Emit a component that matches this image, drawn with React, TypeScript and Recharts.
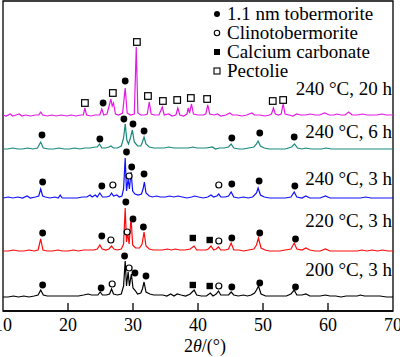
import React from 'react';
import { ComposedChart, Line, Scatter, XAxis, YAxis, ReferenceArea } from 'recharts';

const trace240C20h: [number, number][] = [
  [10, 1], [10.5, 0], [11.1, 2], [11.5, 0], [12, 1], [12.5, 2], [12.9, 0], [13.5, 1], [14.2, 0], [15, 1], [15.5, 1],
  [15.8, 4], [16.1, 1], [16.8, 0], [17.5, 1], [18.2, 0], [19, 1], [19.8, 0], [20.5, 1], [21.2, 0], [22, 1], [22.35, 1],
  [22.6, 8], [22.85, 1], [23.5, 0], [24.2, 1], [24.9, 1], [25.2, 7], [25.5, 1], [26, 2], [26.6, 17], [26.8, 10],
  [27.0, 13], [27.3, 2], [27.8, 1], [28.4, 3], [28.8, 28], [29.1, 3], [29.6, 1], [30.2, 2], [30.5, 69], [30.75, 3],
  [31.2, 1], [31.8, 1], [32.2, 2], [32.5, 14], [32.8, 2], [33.3, 1], [34, 1], [34.5, 9], [34.8, 1], [35.5, 2], [36, 0],
  [36.6, 1], [36.9, 8], [37.2, 1], [37.8, 0], [38.3, 2], [38.5, 8], [38.7, 3], [39.0, 12], [39.3, 2], [40, 1], [40.8, 1],
  [41.2, 2], [41.5, 11], [41.8, 2], [42.5, 1], [43, 2], [43.5, 0], [44.3, 1], [44.9, 3], [45.3, 1], [46, 1], [46.8, 0],
  [47.5, 1], [48.3, 3], [48.7, 1], [49.5, 1], [50.3, 0], [51, 1], [51.3, 2], [51.6, 8], [51.9, 2], [52.4, 1], [52.8, 2],
  [53.1, 12], [53.4, 2], [54, 1], [54.6, 0], [55.2, 2], [55.8, 1], [56.5, 1], [57.3, 2], [58, 1], [58.7, 1], [59.5, 3],
  [60.2, 1], [60.9, 1], [61.4, 2], [62, 1], [62.6, 1], [63.2, 4], [63.7, 1], [64.5, 1], [65.3, 2], [66, 1], [66.8, 1],
  [67.5, 1], [68.3, 2], [69, 1], [70, 1],
];

const trace240C6h: [number, number][] = [
  [10, 1], [10.7, 1], [11.5, 2], [12.3, 1], [13, 1], [13.8, 2], [14.6, 1], [15.3, 2], [15.8, 8], [16.2, 2], [17, 1],
  [17.8, 1], [18.6, 2], [19.4, 1], [20.2, 1], [21, 2], [21.8, 1], [22.6, 2], [23.4, 2], [24.2, 3], [24.5, 3], [24.85, 6],
  [25.2, 2], [25.8, 2], [26.3, 3], [26.6, 4], [27, 2], [27.6, 2], [28.2, 4], [28.55, 12], [28.8, 26], [29.05, 10],
  [29.3, 6], [29.6, 12], [29.9, 20], [30.2, 8], [30.7, 4], [31.2, 4], [31.45, 8], [31.7, 13], [32, 6], [32.5, 3],
  [33.2, 2], [34, 2], [34.8, 2], [35.5, 3], [36.3, 2], [37, 2], [37.8, 2], [38.5, 2], [39.2, 3], [39.8, 2], [40.5, 2],
  [41.3, 2], [42.2, 3], [42.7, 1], [43.3, 2], [44, 2], [44.7, 3], [45.1, 6], [45.5, 2], [46.3, 1], [47, 1], [47.8, 2],
  [48.6, 3], [49.0, 6], [49.25, 9], [49.6, 4], [50.2, 2], [51, 1], [51.8, 1], [52.6, 1], [53.4, 1], [54.4, 3],
  [54.85, 6], [55.3, 2], [56, 1], [56.6, 2], [57.4, 1], [58.2, 1], [59, 1], [59.7, 2], [60.5, 1], [61.3, 1], [62.1, 1],
  [63, 1], [63.8, 1], [64.7, 1], [65.5, 1], [66.3, 1], [67.2, 1], [68, 1], [68.9, 1], [70, 1],
];

const trace240C3h: [number, number][] = [
  [10, 1], [10.8, 2], [11.5, 1], [12.3, 2], [13, 1], [13.7, 3], [14.2, 1], [15, 2], [15.5, 3], [15.8, 10], [16.1, 3],
  [16.5, 2], [17.2, 1], [18, 2], [18.5, 1], [18.8, 4], [19.1, 1], [19.8, 1], [20.6, 1], [21.4, 1], [22.2, 2], [22.9, 2],
  [23.4, 4], [23.7, 2], [24.2, 4], [24.5, 2], [24.9, 6], [25.3, 2], [25.9, 2], [26.4, 3], [26.7, 6], [27.0, 3],
  [27.5, 4], [27.9, 2], [28.3, 3], [28.55, 10], [28.8, 41], [29.0, 8], [29.25, 20], [29.45, 10], [29.7, 27],
  [29.95, 8], [30.3, 5], [30.8, 4], [31.3, 5], [31.55, 10], [31.75, 17], [32, 6], [32.5, 3], [33, 2], [33.6, 3],
  [34.2, 2], [35, 2], [35.6, 3], [36.3, 2], [36.9, 3], [37.6, 2], [38.3, 1], [39, 2], [39.5, 3], [40.1, 2], [40.8, 1],
  [41.5, 2], [42, 4], [42.4, 2], [42.9, 3], [43.2, 5], [43.5, 2], [44.2, 2], [44.7, 3], [45.1, 7], [45.5, 2], [46.2, 1],
  [47, 2], [47.7, 1], [48.4, 2], [49.0, 6], [49.25, 11], [49.6, 4], [50.2, 2], [51, 1], [51.8, 1], [52.6, 1], [53.4, 1],
  [54.3, 2], [54.8, 7], [55.2, 2], [56, 1], [56.6, 3], [57.2, 1], [58, 1], [58.8, 1], [59.6, 3], [60.3, 1], [61, 1],
  [61.8, 1], [62.6, 1], [63.4, 1], [64.2, 1], [65, 1], [65.8, 2], [66.6, 1], [67.4, 1], [68.2, 1], [69, 1], [70, 1],
];

const trace220C3h: [number, number][] = [
  [10, 1], [10.8, 1], [11.6, 2], [12.4, 1], [13.2, 1], [14, 2], [14.8, 1], [15.4, 2], [15.8, 13], [16.15, 2], [16.8, 1],
  [17.6, 1], [18.4, 2], [19.2, 1], [20, 1], [20.8, 2], [21.6, 1], [22.4, 2], [23.2, 2], [24, 2], [24.5, 3], [24.9, 7],
  [25.25, 3], [25.8, 2], [26.3, 3], [26.7, 6], [27.05, 3], [27.6, 2], [28.2, 3], [28.55, 8], [28.8, 44], [29.0, 10],
  [29.2, 19], [29.4, 8], [29.7, 34], [29.95, 7], [30.4, 4], [31, 4], [31.4, 8], [31.7, 20], [32.0, 6], [32.5, 3],
  [33.1, 2], [33.8, 2], [34.5, 2], [35.3, 3], [35.9, 2], [36.5, 3], [37.2, 2], [38, 2], [38.8, 3], [39.4, 6], [39.8, 2],
  [40.5, 2], [41.2, 2], [41.6, 3], [42.0, 6], [42.4, 2], [42.8, 3], [43.15, 5], [43.5, 2], [44.2, 2], [44.7, 3],
  [45.1, 9], [45.5, 2], [46.3, 2], [47, 1], [47.8, 2], [48.6, 3], [49.0, 7], [49.3, 14], [49.7, 4], [50.3, 2], [51, 1],
  [51.8, 1], [52.6, 1], [53.4, 2], [54.3, 3], [54.8, 9], [55.2, 3], [56, 2], [56.6, 4], [57.2, 2], [58, 1], [58.8, 1],
  [59.6, 3], [60.3, 1], [61.2, 1], [62, 1], [62.8, 1], [63.6, 1], [64.5, 1], [65.2, 2], [66, 1], [66.8, 2], [67.6, 1],
  [68.4, 2], [69.2, 1], [70, 1],
];

const trace200C3h: [number, number][] = [
  [10, 1], [10.8, 1], [11.6, 2], [12.4, 1], [13.2, 2], [14, 1], [14.8, 2], [15.4, 3], [15.8, 8], [16.2, 3], [16.8, 2],
  [17.6, 2], [18.4, 2], [19.2, 2], [20, 2], [20.8, 2], [21.6, 2], [22.4, 3], [23.1, 4], [23.6, 3], [24.2, 3], [24.6, 3],
  [24.95, 6], [25.3, 3], [25.9, 3], [26.4, 4], [26.7, 9], [27.0, 4], [27.6, 3], [28.2, 4], [28.55, 12], [28.8, 37],
  [29.0, 12], [29.25, 26], [29.45, 12], [29.75, 24], [30.0, 10], [30.4, 7], [30.7, 4], [31.2, 5], [31.45, 9],
  [31.7, 16], [32, 6], [32.6, 4], [33.2, 3], [33.9, 3], [34.6, 3], [35.2, 2], [35.8, 4], [36.3, 2], [36.8, 4], [37.4, 3],
  [38.1, 2], [38.8, 4], [39.4, 8], [39.8, 3], [40.5, 2], [41.3, 2], [41.9, 5], [42.3, 2], [42.8, 4], [43.15, 7],
  [43.5, 3], [44.2, 3], [44.7, 3], [45.1, 6], [45.5, 3], [46.2, 2], [47, 3], [47.6, 2], [48.2, 3], [48.7, 5], [49.0, 8],
  [49.3, 12], [49.7, 4], [50.4, 2], [51.2, 2], [52, 2], [52.8, 2], [53.6, 2], [54.3, 4], [54.8, 8], [55.2, 3], [56, 3],
  [56.6, 4], [57.2, 2], [58, 2], [58.8, 2], [59.6, 3], [60.3, 2], [61.2, 2], [62, 1], [62.8, 2], [63.6, 2], [64.5, 2],
  [65, 3], [65.6, 2], [66.4, 2], [67.2, 2], [68, 2], [69, 1], [70, 1],
];

// phase markers: [sample, 2θ, height above that sample's baseline]
const tobermoriteMarks: [string, number, number][] = [
  ['20h', 25.4, 13], ['20h', 28.8, 35],
  ['6h', 16.0, 15], ['6h', 24.9, 11], ['6h', 28.6, 31], ['6h', 30.0, 26], ['6h', 31.7, 19], ['6h', 45.2, 12], ['6h', 49.5, 17], ['6h', 54.8, 13],
  ['3h240', 16.1, 17], ['3h240', 25.2, 13], ['3h240', 29.0, 47], ['3h240', 29.8, 32], ['3h240', 31.7, 25], ['3h240', 45.2, 15], ['3h240', 49.4, 18], ['3h240', 54.9, 13],
  ['3h220', 16.1, 19], ['3h220', 25.2, 16], ['3h220', 28.9, 50], ['3h220', 30.0, 33], ['3h220', 31.6, 25], ['3h220', 45.2, 14], ['3h220', 49.5, 19], ['3h220', 55.0, 13],
  ['3h200', 16.1, 13], ['3h200', 25.1, 10], ['3h200', 28.7, 42], ['3h200', 30.3, 25], ['3h200', 32.0, 22], ['3h200', 45.2, 11], ['3h200', 49.5, 15], ['3h200', 55.0, 11],
];
const clinotobermoriteMarks: [string, number, number][] = [
  ['3h240', 26.9, 14], ['3h240', 29.4, 23], ['3h240', 43.2, 14],
  ['3h220', 26.6, 12], ['3h220', 29.1, 20], ['3h220', 43.2, 11],
  ['3h200', 26.8, 14], ['3h200', 29.4, 30], ['3h200', 43.2, 12],
];
const carbonateMarks: [string, number, number][] = [
  ['3h220', 39.2, 14], ['3h220', 41.8, 12],
  ['3h200', 39.2, 13], ['3h200', 41.8, 12],
];
const pectoliteMarks: [string, number, number][] = [
  ['20h', 22.6, 13], ['20h', 26.9, 23], ['20h', 30.6, 74], ['20h', 32.3, 20], ['20h', 34.6, 15],
  ['20h', 36.8, 16], ['20h', 38.9, 18], ['20h', 41.4, 17], ['20h', 51.5, 15], ['20h', 53.1, 16],
];

const xTicks = [10, 20, 30, 40, 50, 60, 70];
const legendNames = ['1.1 nm tobermorite', 'Clinotobermorite', 'Calcium carbonate', 'Pectolie'];

const FONT = "'Liberation Serif', 'Times New Roman', Times, 'DejaVu Serif', serif";
const serif = { fontFamily: FONT };

const samples = [
  { id: '20h', label: '240 °C, 20 h', data: trace240C20h, color: '#e31ae3', offset: 195, labelY: 95 },
  { id: '6h', label: '240 °C, 6 h', data: trace240C6h, color: '#17897a', offset: 161, labelY: 138 },
  { id: '3h240', label: '240 °C, 3 h', data: trace240C3h, color: '#1010ff', offset: 112, labelY: 185 },
  { id: '3h220', label: '220 °C, 3 h', data: trace220C3h, color: '#ff0a0a', offset: 59, labelY: 227 },
  { id: '3h200', label: '200 °C, 3 h', data: trace200C3h, color: '#000000', offset: 13, labelY: 276 },
];

const offsetOf = (id: string) => samples.find((s) => s.id === id)!.offset;
const toPoints = (marks: [string, number, number][]) =>
  marks.map(([id, x, h]) => ({ x, y: offsetOf(id) + h }));

const FilledCircle = (p: any) => <circle cx={p.cx} cy={p.cy} r={3.4} fill="#000" />;
const OpenCircle = (p: any) => <circle cx={p.cx} cy={p.cy} r={3} fill="#fff" stroke="#000" strokeWidth={1.2} />;
const FilledSquare = (p: any) => <rect x={p.cx - 3.2} y={p.cy - 3.2} width={6.4} height={6.4} fill="#000" />;
const OpenSquare = (p: any) => (
  <rect x={p.cx - 3.3} y={p.cy - 3.3} width={6.6} height={6.6} fill="#fff" stroke="#000" strokeWidth={1.2} />
);

const InTick = (props: any) => {
  const { x, y, payload } = props;
  const edge = payload.value === 10 || payload.value === 70;
  return (
    <g>
      {!edge && <line x1={x} x2={x} y1={y} y2={y - 8} stroke="#000" strokeWidth={1.3} />}
      <text x={x} y={y + 20} textAnchor="middle" style={serif} fontSize={18} fill="#000">
        {payload.value}
      </text>
    </g>
  );
};

export default function App() {
  return (
    <div style={{ position: 'absolute', left: 0, top: 0, width: 400, height: 357, background: '#fff', ...serif }}>
      <ComposedChart width={400} height={357} margin={{ top: 1, right: 7, left: 3, bottom: 0 }}>
        <XAxis
          dataKey="x"
          type="number"
          domain={[10, 70]}
          ticks={xTicks}
          interval={0}
          height={46}
          tickSize={0}
          tickMargin={0}
          tickLine={false}
          axisLine={{ stroke: '#000', strokeWidth: 1.3 }}
          tick={<InTick />}
          allowDataOverflow
        />
        <YAxis hide type="number" domain={[0, 310]} allowDataOverflow />
        <ReferenceArea x1={10} x2={70} y1={0} y2={310} fill="none" stroke="#000" strokeWidth={1.3} ifOverflow="visible" />
        {samples.map((s) => (
          <Line
            key={s.id}
            data={s.data.map(([x, v]) => ({ x, y: s.offset + v }))}
            dataKey="y"
            type="linear"
            stroke={s.color}
            strokeWidth={1.2}
            dot={false}
            activeDot={false}
            isAnimationActive={false}
          />
        ))}
        <Scatter data={toPoints(tobermoriteMarks)} dataKey="y" shape={FilledCircle} isAnimationActive={false} />
        <Scatter data={toPoints(clinotobermoriteMarks)} dataKey="y" shape={OpenCircle} isAnimationActive={false} />
        <Scatter data={toPoints(carbonateMarks)} dataKey="y" shape={FilledSquare} isAnimationActive={false} />
        <Scatter data={toPoints(pectoliteMarks)} dataKey="y" shape={OpenSquare} isAnimationActive={false} />
      </ComposedChart>
      <svg width={400} height={357} style={{ position: 'absolute', left: 0, top: 0, pointerEvents: 'none', ...serif }}>
        <g fontSize={19} fill="#000">
          {legendNames.map((name, i) => (
            <text key={name} x={227} y={20 + i * 19} style={serif}>{name}</text>
          ))}
        </g>
        <circle cx={217} cy={14} r={3} fill="#000" />
        <circle cx={217} cy={33} r={2.7} fill="#fff" stroke="#000" strokeWidth={1.1} />
        <rect x={214} y={49} width={6} height={6} fill="#000" />
        <rect x={214} y={68} width={6} height={6} fill="#fff" stroke="#000" strokeWidth={1.1} />
        <g fontSize={19} fill="#000" textAnchor="end">
          {samples.map((s) => (
            <text key={s.id} x={392} y={s.labelY} style={serif}>{s.label}</text>
          ))}
        </g>
        <text x={205} y={352} textAnchor="middle" style={serif} fontSize={18} fill="#000">
          2<tspan fontStyle="italic">θ</tspan>/(°)
        </text>
      </svg>
    </div>
  );
}
